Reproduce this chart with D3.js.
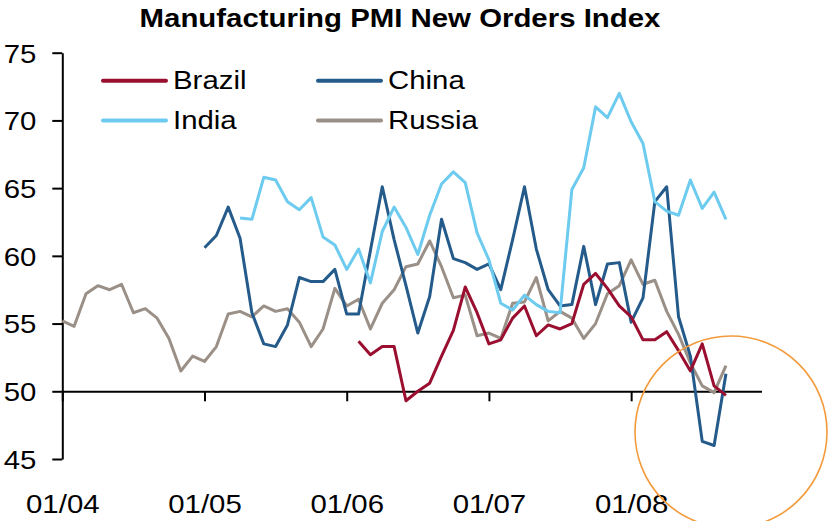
<!DOCTYPE html>
<html>
<head>
<meta charset="utf-8">
<script src="https://cdn.jsdelivr.net/npm/d3@7"></script>
<style>
  body { margin: 0; background: #fff; }
  text { font-family: "Liberation Sans", Arial, sans-serif; fill: #000; }
</style>
</head>
<body>
<svg id="chart" width="833" height="521"></svg>
<script>
// month index 0 = Jan 2004
var tickMonths = [0, 12, 24, 36, 48];
var tickLabels = ['01/04', '01/05', '01/06', '01/07', '01/08'];
var yTicks = [45, 50, 55, 60, 65, 70, 75];

var seriesNames = ['Brazil', 'China', 'India', 'Russia'];
var seriesStart = [25, 12, 15, 0];

var brazil = [53.7, 52.7, 53.3, 53.3, 49.3, 50.0, 50.6, 52.6, 54.5, 57.7,
  55.8, 53.5, 53.8, 55.4, 56.3, 54.1, 54.9, 54.6, 55.0, 57.9,
  58.7, 57.6, 56.3, 55.5, 53.8, 53.8, 54.4, 53.0, 51.5, 53.5,
  50.4, 49.7];
var china = [60.6, 61.5, 63.6, 61.3, 55.8, 53.5, 53.3, 54.9, 58.4, 58.1,
  58.1, 59.0, 55.7, 55.7, 60.4, 65.1, 61.2, 57.8, 54.3, 57.0,
  62.7, 59.8, 59.5, 59.0, 59.4, 57.5, 61.2, 65.1, 60.5, 57.5,
  56.3, 56.4, 60.7, 56.4, 59.4, 59.5, 55.1, 56.9, 64.0, 65.1,
  55.5, 52.6, 46.3, 46.0, 51.3];
var india = [62.8, 62.7, 65.8, 65.6, 64.0, 63.4, 64.3, 61.4, 60.8, 59.0,
  60.5, 58.0, 61.8, 63.6, 62.1, 60.1, 63.0, 65.3, 66.2, 65.4,
  61.7, 59.7, 56.5, 56.0, 57.1, 56.4, 55.9, 55.8, 64.9, 66.5,
  71.0, 70.2, 72.0, 69.9, 68.3, 64.0, 63.3, 63.0, 65.6, 63.5,
  64.7, 62.7];
var russia = [55.2, 54.8, 57.2, 57.8, 57.5, 57.9, 55.8, 56.1, 55.4, 53.9,
  51.5, 52.6, 52.2, 53.3, 55.7, 55.9, 55.5, 56.3, 55.9, 56.1,
  55.1, 53.3, 54.6, 57.6, 56.3, 56.8, 54.6, 56.5, 57.5, 59.2,
  59.4, 61.1, 59.2, 56.9, 57.1, 54.1, 54.3, 53.9, 56.5, 56.6,
  58.4, 55.2, 55.9, 55.4, 53.9, 55.0, 57.2, 57.8, 59.7, 57.9,
  58.2, 55.9, 54.2, 52.1, 50.4, 49.9, 51.9];

var seriesValues = [brazil, china, india, russia];
var colors = ['#9a0f30', '#245b8b', '#6ccbee', '#9a9087'];

// text in the reference is a bit wider than Arial
var SX = 1.13;
function stretch(sel) {
  sel.each(function() {
    var w = this.getComputedTextLength();
    d3.select(this).attr('textLength', w * SX).attr('lengthAdjust', 'spacingAndGlyphs');
  });
}

var svg = d3.select('#chart');

var x = d3.scaleLinear().domain([0, 59]).range([62.3, 761.5]);
var y = d3.scaleLinear().domain([45, 75]).range([459, 52.7]);

// title
svg.append('text')
  .attr('x', 400).attr('y', 27)
  .attr('text-anchor', 'middle')
  .style('font-size', '26px').style('font-weight', 'bold')
  .text('Manufacturing PMI New Orders Index')
  .call(stretch);

// y axis
var yAxis = svg.append('g')
  .attr('transform', 'translate(' + x(0) + ',0)')
  .call(d3.axisLeft(y).tickValues(yTicks).tickSize(10).tickSizeOuter(0).tickPadding(16));
yAxis.select('.domain').attr('stroke', '#000').attr('stroke-width', 2);
yAxis.selectAll('.tick line').attr('stroke', '#000').attr('stroke-width', 2);
yAxis.selectAll('.tick text')
  .attr('dy', '0.36em')
  .style('font-size', '26px').style('font-family', '"Liberation Sans", Arial, sans-serif')
  .call(stretch);

// x axis crosses at 50, labels sit at the bottom
var xAxis = svg.append('g')
  .attr('transform', 'translate(0,' + y(50) + ')')
  .call(d3.axisBottom(x).tickValues(tickMonths).tickSize(10).tickSizeOuter(0)
    .tickFormat(function(d, i) { return tickLabels[i]; }));
xAxis.select('.domain').attr('stroke', '#000').attr('stroke-width', 2);
xAxis.selectAll('.tick line').attr('stroke', '#000').attr('stroke-width', 2);
xAxis.selectAll('.tick text')
  .attr('y', 513 - y(50)).attr('dy', 0)
  .style('font-size', '26px').style('font-family', '"Liberation Sans", Arial, sans-serif')
  .call(stretch);

// lines
var line = d3.line()
  .x(function(d) { return x(d.m); })
  .y(function(d) { return y(d.v); });

var order = [3, 1, 2, 0]; // drawing order
order.forEach(function(k) {
  var pts = seriesValues[k].map(function(v, i) { return { m: seriesStart[k] + i, v: v }; });
  svg.append('path')
    .datum(pts)
    .attr('d', line)
    .attr('fill', 'none')
    .attr('stroke', colors[k])
    .attr('stroke-width', 3)
    .attr('stroke-linejoin', 'round');
});

// legend
var legendPos = [[103, 80.7], [318, 80.7], [103, 120.5], [318, 120.5]];
seriesNames.forEach(function(name, k) {
  var g = svg.append('g').attr('transform', 'translate(' + legendPos[k][0] + ',' + legendPos[k][1] + ')');
  g.append('line')
    .attr('x1', 0).attr('x2', 63)
    .attr('stroke', colors[k]).attr('stroke-width', 4).attr('stroke-linecap', 'round');
  g.append('text')
    .attr('x', 70).attr('y', 8)
    .style('font-size', '26px')
    .text(name)
    .call(stretch);
});

// highlight circle
svg.append('circle')
  .attr('cx', 731).attr('cy', 432).attr('r', 96)
  .attr('fill', 'none').attr('stroke', '#f39a3a').attr('stroke-width', 1.6);
</script>
</body>
</html>
